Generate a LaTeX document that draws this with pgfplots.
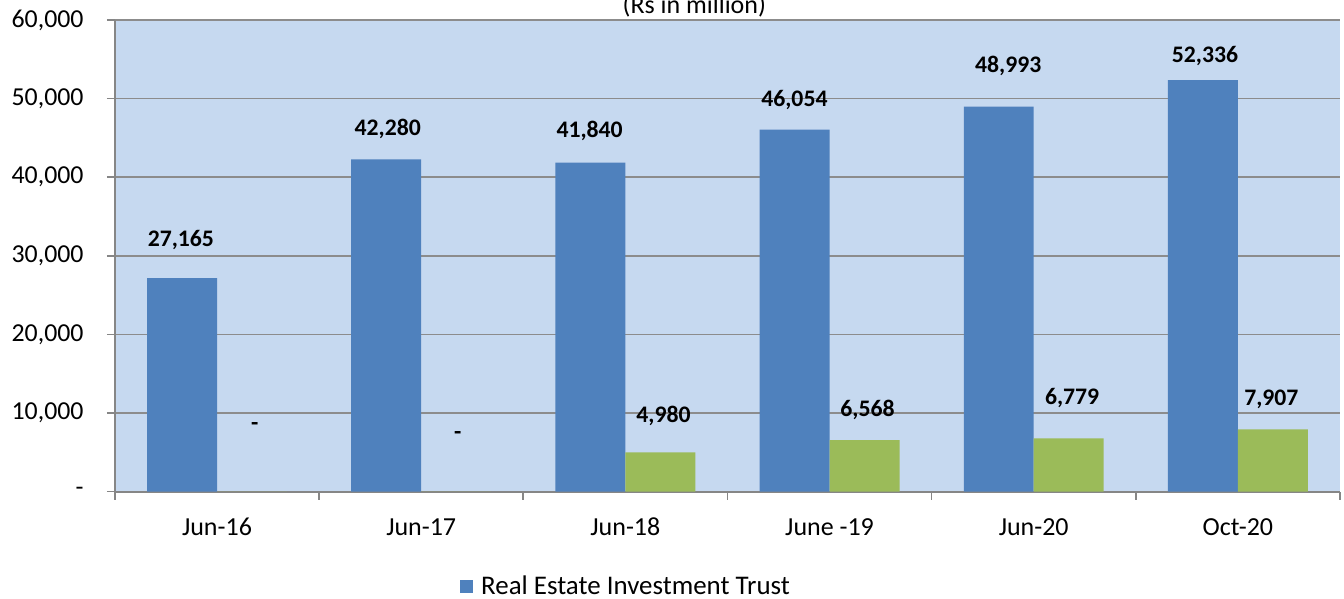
\documentclass[border=0pt]{standalone}
\usepackage{pgfplots}
\pgfplotsset{compat=1.18}
\usepackage{fontspec}
\setmainfont{Carlito}
\definecolor{bgc}{RGB}{198,217,240}
\definecolor{blueA}{RGB}{79,129,189}
\definecolor{greenA}{RGB}{155,187,89}
\definecolor{axgray}{RGB}{134,134,134}
\definecolor{grgray}{RGB}{140,140,140}
\begin{document}
\begin{tikzpicture}
\useasboundingbox (-86.25pt,-80.25pt) rectangle (922.5pt,369pt);
\begin{axis}[
  at={(0,0)}, anchor=south west,
  scale only axis, width=919.5pt, height=354pt,
  xmin=-0.5, xmax=5.5, ymin=0, ymax=60000,
  clip=false,
  scaled y ticks=false,
  axis background/.style={fill=bgc},
  axis x line*=bottom, axis y line*=left,
  axis line style={draw=axgray, line width=1.5pt, -},
  tick align=outside,
  major tick length=6pt,
  tick style={draw=axgray, line width=1.2pt},
  xtick={-0.5,0.5,...,5.5}, xticklabels={},
  extra x ticks={0,1,2,3,4,5},
  extra x tick labels={Jun-16,Jun-17,Jun-18,June -19,Jun-20,Oct-20},
  extra x tick style={major tick length=0pt, xticklabel style={font=\fontsize{19.5}{22}\selectfont, anchor=base, yshift=-33pt}},
  ytick={0,10000,...,60000},
  yticklabels={{-},{10,000},{20,000},{30,000},{40,000},{50,000},{60,000}},
  yticklabel style={font=\fontsize{19.4}{22}\selectfont, anchor=east, xshift=-14pt},
  ymajorgrids, grid style={draw=grgray, line width=1.1pt},
  legend style={at={(0.2814,-0.2013)}, anchor=west, draw=none, fill=none, inner sep=0pt, font=\fontsize{20.2}{22}\selectfont,
    /tikz/every odd column/.append style={column sep=4pt}},
  legend cell align=left,
]
\addplot[ybar, bar width=0.3426, bar shift=-0.1713, fill=blueA, draw=none,
  legend image code/.code={\fill[blueA] (0pt,-5pt) rectangle (10pt,5pt);}]
  coordinates {(0,27165) (1,42280) (2,41840) (3,46054) (4,48993) (5,52336)};
\addlegendentry{Real Estate Investment Trust}
\addplot[ybar, bar width=0.3426, bar shift=0.1713, fill=greenA, draw=none, forget plot]
  coordinates {(0,0) (1,0) (2,4980) (3,6568) (4,6779) (5,7907)};
\addplot[only marks, mark=none, forget plot, nodes near coords, point meta=explicit symbolic,
  nodes near coords style={anchor=base, inner sep=0pt, font=\bfseries\fontsize{17.8}{20}\selectfont}]
  table[meta=label, row sep=\\] {
  x y label\\
  -0.177 31144 27,165\\
  0.836 45254 42,280\\
  1.825 45000 41,840\\
  2.828 48941 46,054\\
  3.875 53263 48,993\\
  4.839 54534 52,336\\
  0.185 7754 -\\
  1.179 6610 -\\
  2.187 8771 4,980\\
  3.186 9534 6,568\\
  4.188 11059 6,779\\
  5.164 10932 7,907\\
};
\node[anchor=base, font=\fontsize{19.5}{22}\selectfont] at (rel axis cs:0.473,1) [yshift=4.5pt] {(Rs in million)};
\end{axis}
\end{tikzpicture}
\end{document}
